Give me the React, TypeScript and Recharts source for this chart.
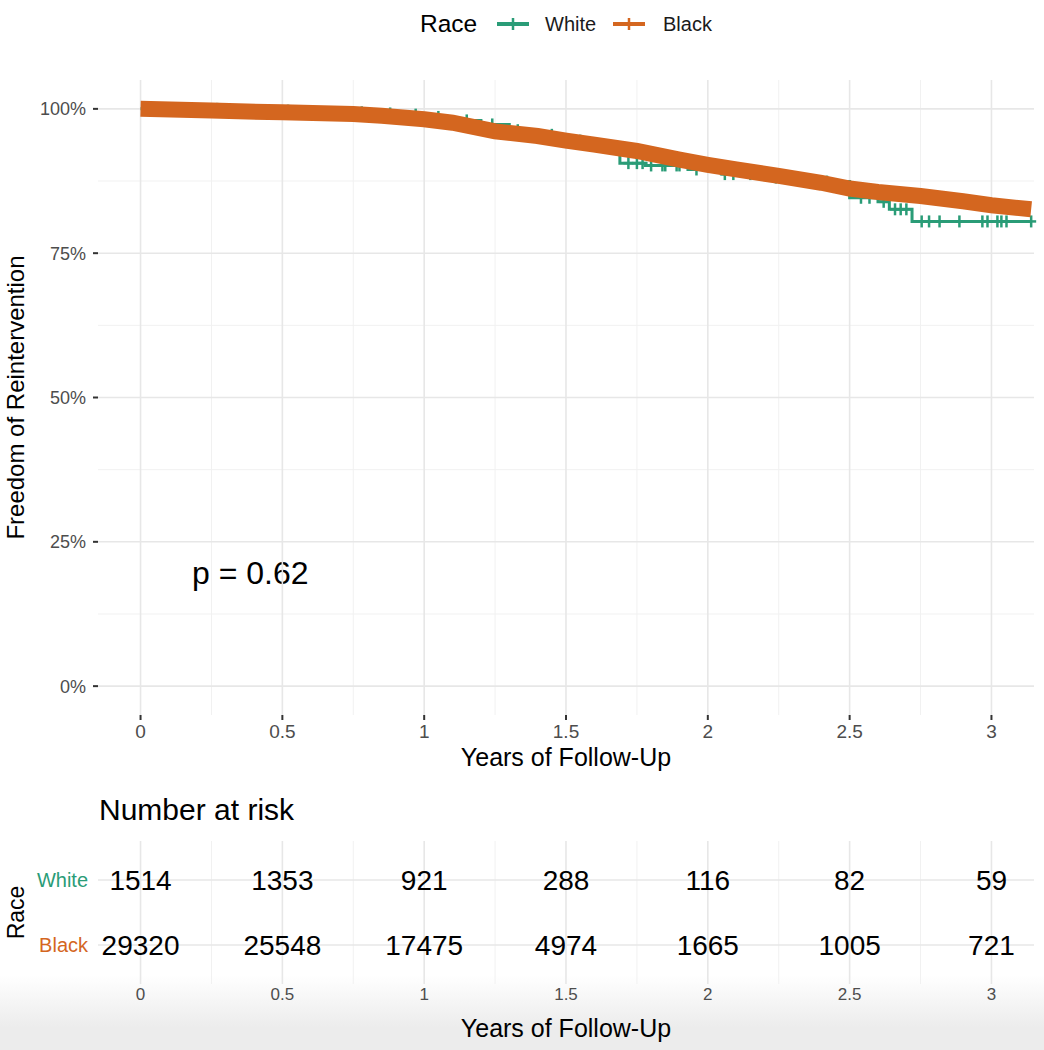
import { LineChart, Line, XAxis, YAxis, CartesianGrid, ScatterChart, Scatter } from 'recharts';

const FONT = '"Liberation Sans", Arial, Helvetica, sans-serif';
const GREEN = '#2a9c77';
const ORANGE = '#d4661f';

// KM curve for White (step points)
const whiteTimes = [0, 0.3, 0.6, 0.8, 0.9, 1.0, 1.1, 1.2, 1.3, 1.4, 1.5, 1.6, 1.69, 1.78, 1.93, 2.05, 2.2, 2.35, 2.5, 2.6, 2.64, 2.72, 3.14];
const whiteSurv = [100, 99.7, 99.4, 99.2, 99.0, 98.6, 98.0, 97.3, 96.3, 95.5, 94.5, 93.6, 90.6, 90.2, 89.5, 88.7, 88.1, 87.4, 84.6, 83.9, 82.6, 80.5, 80.5];
// censoring marks for White
const whiteCensor = [0.05, 0.15, 0.27, 0.4, 0.52, 0.66, 0.78, 0.88, 0.97, 1.05, 1.15, 1.24, 1.33, 1.45, 1.55, 1.63, 1.72, 1.75, 1.77, 1.8, 1.84, 1.85, 1.89, 1.9, 1.96, 2.06, 2.09, 2.15, 2.24, 2.3, 2.42, 2.54, 2.57, 2.62, 2.66, 2.68, 2.7, 2.754, 2.78, 2.817, 2.887, 2.968, 2.986, 3.021, 3.035, 3.053, 3.14];

// KM curve for Black (dense censoring, drawn as a band)
const blackTimes = [0, 0.25, 0.5, 0.75, 0.85, 1.0, 1.1, 1.25, 1.4, 1.5, 1.6, 1.75, 1.9, 2.0, 2.1, 2.25, 2.4, 2.5, 2.6, 2.75, 2.9, 3.0, 3.14];
const blackSurv = [100, 99.7, 99.4, 99.1, 98.8, 98.2, 97.6, 96.1, 95.3, 94.5, 93.8, 92.7, 91.2, 90.3, 89.5, 88.4, 87.2, 86.2, 85.6, 84.9, 84.0, 83.3, 82.6];

// number at risk table
const riskTimes = [0, 0.5, 1, 1.5, 2, 2.5, 3];
const riskWhite = [1514, 1353, 921, 288, 116, 82, 59];
const riskBlack = [29320, 25548, 17475, 4974, 1665, 1005, 721];

const xTicks = [0, 0.5, 1, 1.5, 2, 2.5, 3];
const xMinor = [0.25, 0.75, 1.25, 1.75, 2.25, 2.75];
const yTicks = [0, 25, 50, 75, 100];
const yMinor = [12.5, 37.5, 62.5, 87.5];

const whiteData = (() => {
  const rows = whiteTimes.map((t, i) => ({ t, s: whiteSurv[i], c: false }));
  whiteCensor.forEach(t => {
    const hit = rows.find(r => r.t === t);
    if (hit) { hit.c = true; return; }
    let s = whiteSurv[0];
    whiteTimes.forEach((wt, i) => { if (wt <= t) s = whiteSurv[i]; });
    rows.push({ t, s, c: true });
  });
  return rows.sort((a, b) => a.t - b.t);
})();

const blackData = blackTimes.map((t, i) => ({ t, s: blackSurv[i] }));

const whiteRisk = riskTimes.map((t, i) => ({ t, row: 2, n: riskWhite[i] }));
const blackRisk = riskTimes.map((t, i) => ({ t, row: 1, n: riskBlack[i] }));

const CensorMark = (props: any) => {
  const { cx, cy, payload, index } = props;
  if (!payload || !payload.c || cx == null || cy == null) return <g key={`c-${index}`} />;
  return (
    <g key={`c-${index}`}>
      <line x1={cx} x2={cx} y1={cy - 6} y2={cy + 6} stroke={GREEN} strokeWidth={2.5} />
      <line x1={cx - 5} x2={cx + 5} y1={cy} y2={cy} stroke={GREEN} strokeWidth={2.5} />
    </g>
  );
};

const RiskText = (props: any) => {
  const { cx, cy, payload } = props;
  return (
    <text x={cx} y={cy} dy="0.355em" textAnchor="middle" fontSize={28} fill="#000" fontFamily={FONT}>
      {payload.n}
    </text>
  );
};

const RiskYTick = (props: any) => {
  const { x, y, payload } = props;
  const isWhite = payload.value === 2;
  return (
    <text x={x} y={y} dy="0.355em" textAnchor="end" fontSize={20} fill={isWhite ? GREEN : ORANGE} fontFamily={FONT}>
      {isWhite ? 'White' : 'Black'}
    </text>
  );
};

const tickStyle = { fill: '#4d4d4d', fontSize: 18, fontFamily: FONT };

export default function App() {
  return (
    <div style={{ position: 'absolute', left: 0, top: 0, width: 1044, height: 1050, background: '#fff', fontFamily: FONT, overflow: 'hidden' }}>
      <div style={{ position: 'absolute', left: 0, top: 975, width: 1044, height: 75, background: 'linear-gradient(to bottom, rgba(240,240,240,0), #ececec 70%)' }} />

      {/* legend + annotations */}
      <svg width={1044} height={1050} style={{ position: 'absolute', left: 0, top: 0, pointerEvents: 'none' }}>
        <text x={420} y={32} fontSize={24.5} fill="#000" fontFamily={FONT}>Race</text>
        <line x1={497} x2={529} y1={24} y2={24} stroke={GREEN} strokeWidth={4} />
        <line x1={513} x2={513} y1={18} y2={30} stroke={GREEN} strokeWidth={2.5} />
        <text x={545} y={31} fontSize={20} fill="#1a1a1a" fontFamily={FONT}>White</text>
        <line x1={613} x2={645} y1={24} y2={24} stroke={ORANGE} strokeWidth={4} />
        <line x1={629} x2={629} y1={18} y2={30} stroke={ORANGE} strokeWidth={2.5} />
        <text x={663} y={31} fontSize={20} fill="#1a1a1a" fontFamily={FONT}>Black</text>

        <text x={192} y={584} fontSize={32} fill="#000" fontFamily={FONT}>p = 0.62</text>
        <text x={99} y={820} fontSize={30} fill="#000" fontFamily={FONT}>Number at risk</text>
      </svg>

      <div style={{ position: 'absolute', left: 0, top: 0 }}>
        <LineChart width={1044} height={790} margin={{ top: 80, right: 10, bottom: 0, left: 0 }}>
          <CartesianGrid horizontalValues={yMinor} verticalValues={xMinor} stroke="#f1f1f1" strokeWidth={1} />
          <CartesianGrid horizontalValues={yTicks} verticalValues={xTicks} stroke="#e7e7e7" strokeWidth={1.6} />
          <XAxis
            type="number"
            dataKey="t"
            domain={[-0.15, 3.15]}
            ticks={xTicks}
            height={75}
            axisLine={false}
            tickLine={{ stroke: '#333', strokeWidth: 2 }}
            tickSize={5}
            tickMargin={5}
            tick={{ ...tickStyle, fontSize: 19 }}
            label={{ value: 'Years of Follow-Up', position: 'insideBottom', offset: 24, style: { fontSize: 25, fill: '#000', fontFamily: FONT } }}
          />
          <YAxis
            type="number"
            domain={[-5, 105]}
            ticks={yTicks}
            width={98}
            axisLine={false}
            tickLine={{ stroke: '#333', strokeWidth: 2 }}
            tickSize={5}
            tickMargin={7}
            tick={tickStyle}
            tickFormatter={(v: number) => `${v}%`}
            label={{ value: 'Freedom of Reintervention', angle: -90, position: 'insideLeft', offset: 15, style: { textAnchor: 'middle', fontSize: 24, fill: '#000', fontFamily: FONT } }}
          />
          <Line
            data={whiteData}
            dataKey="s"
            type="stepAfter"
            stroke={GREEN}
            strokeWidth={3}
            dot={CensorMark}
            activeDot={false}
            isAnimationActive={false}
            zIndex={400}
          />
          <Line
            data={blackData}
            dataKey="s"
            type="linear"
            stroke={ORANGE}
            strokeWidth={16}
            strokeLinecap="butt"
            dot={false}
            activeDot={false}
            isAnimationActive={false}
            zIndex={700}
          />
        </LineChart>
      </div>

      <div style={{ position: 'absolute', left: 0, top: 790 }}>
        <ScatterChart width={1044} height={260} margin={{ top: 51, right: 10, bottom: 0, left: 0 }}>
          <CartesianGrid horizontal={false} verticalValues={xMinor} stroke="#f1f1f1" strokeWidth={1} />
          <CartesianGrid horizontalValues={[1, 2]} verticalValues={xTicks} stroke="#e7e7e7" strokeWidth={1.6} />
          <XAxis
            type="number"
            dataKey="t"
            domain={[-0.15, 3.15]}
            ticks={xTicks}
            height={66}
            axisLine={false}
            tickLine={false}
            tickSize={0}
            tickMargin={4}
            tick={{ fill: '#4d4d4d', fontSize: 17, fontFamily: FONT }}
            label={{ value: 'Years of Follow-Up', position: 'insideBottom', offset: 13, style: { fontSize: 25, fill: '#000', fontFamily: FONT } }}
          />
          <YAxis
            type="number"
            dataKey="row"
            domain={[0.4, 2.6]}
            ticks={[1, 2]}
            width={98}
            axisLine={false}
            tickLine={false}
            tickSize={0}
            tickMargin={10}
            tick={RiskYTick}
            label={{ value: 'Race', angle: -90, position: 'insideLeft', offset: 16, style: { textAnchor: 'middle', fontSize: 23, fill: '#000', fontFamily: FONT } }}
          />
          <Scatter data={whiteRisk} shape={RiskText} isAnimationActive={false} />
          <Scatter data={blackRisk} shape={RiskText} isAnimationActive={false} />
        </ScatterChart>
      </div>
    </div>
  );
}
